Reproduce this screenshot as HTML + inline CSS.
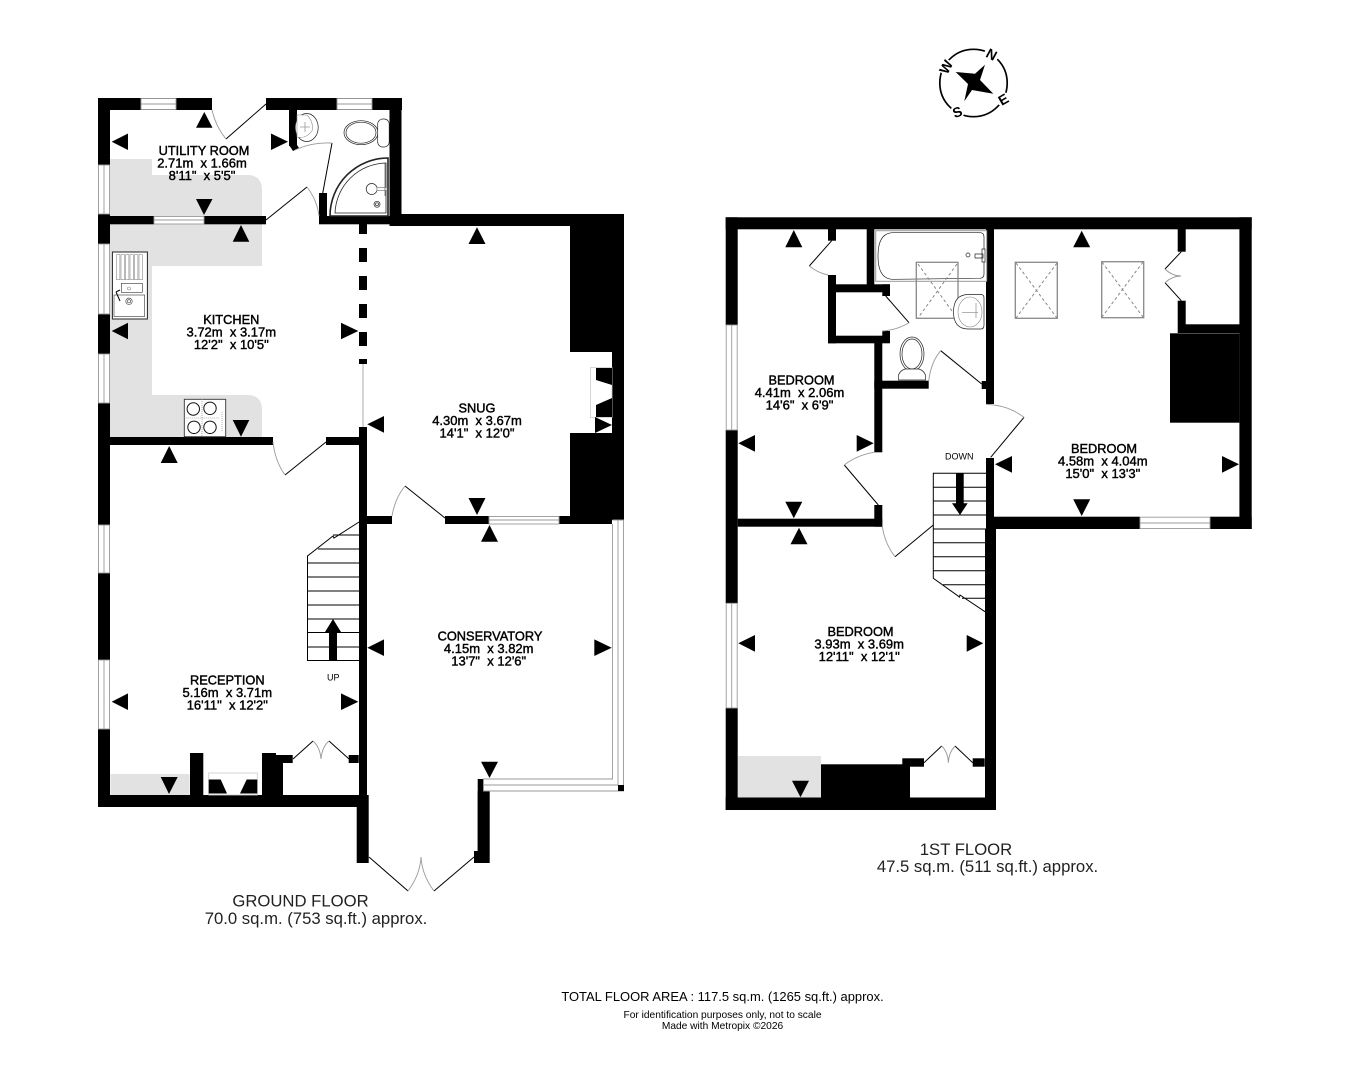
<!DOCTYPE html>
<html><head><meta charset="utf-8"><style>
html,body{margin:0;padding:0;background:#fff}
svg{display:block}
text{font-family:"Liberation Sans",sans-serif;fill:#000;text-anchor:middle;white-space:pre}
.t{font-size:13px;stroke:#000;stroke-width:.42}
.t .h{font-size:12.8px}
.b{font-size:16.7px;fill:#222}
.k{font-size:14px;font-weight:bold}
.w{fill:#fff;stroke:#999;stroke-width:.9}
.c{stroke:#999;stroke-width:.9;fill:none}
.l{stroke:#000;stroke-width:1;fill:none}
.g{stroke:#999;stroke-width:.8;fill:none}
.f{stroke:#222;stroke-width:.7;fill:#fff}
.f2{stroke:#888;stroke-width:.6;fill:#fff}
.d{stroke:#888;stroke-width:1;stroke-dasharray:3 2.5;fill:none}
.s{stroke:#888;stroke-width:1.3;fill:none}
</style></head><body>
<svg width="1350" height="1077" viewBox="0 0 1350 1077" xmlns="http://www.w3.org/2000/svg">
<rect width="1350" height="1077" fill="#fff"/>

<!-- counters -->
<g fill="#e2e2e2">
<path d="M110 159H152V175H247Q262 175 262 190V217H110Z"/>
<path d="M110 224H262V266H152V395H247Q262 395 262 410V438H110Z"/>
<rect x="110.5" y="774" width="79" height="21"/>
<rect x="738" y="756" width="83" height="42"/>
</g>

<!-- GROUND FLOOR walls -->
<g fill="#000">
<rect x="98" y="98" width="114" height="12"/>
<rect x="266" y="98" width="136" height="12"/>
<rect x="98" y="98" width="12" height="67"/>
<rect x="98" y="214" width="12" height="30"/>
<rect x="98" y="314" width="12" height="40"/>
<rect x="98" y="403" width="12" height="122"/>
<rect x="98" y="573" width="12" height="87"/>
<rect x="98" y="729" width="12" height="78"/>
<rect x="98" y="216" width="56" height="8.3"/>
<rect x="204" y="216" width="62" height="8.3"/>
<rect x="319" y="216" width="82" height="8.3"/>
<rect x="319" y="193" width="8" height="31"/>
<rect x="389.5" y="98" width="12" height="128"/>
<rect x="389.5" y="214" width="234.5" height="12"/>
<rect x="612" y="214" width="12" height="306"/>
<rect x="289" y="110" width="8" height="36"/>
<path d="M289 145L297 145L299 148L293 151Z"/>
<rect x="359" y="224" width="8" height="10"/>
<rect x="359" y="248" width="8" height="14"/>
<rect x="359" y="276" width="8" height="14"/>
<rect x="359" y="304" width="8" height="14"/>
<rect x="359" y="332" width="8" height="14"/>
<rect x="359" y="359" width="8" height="5"/>
<rect x="359" y="427" width="8" height="368"/>
<rect x="98" y="437" width="175" height="8"/>
<rect x="326" y="437" width="41" height="8"/>
<rect x="367" y="516" width="25" height="8"/>
<rect x="445" y="516" width="44" height="8"/>
<rect x="559" y="516" width="53" height="8"/>
<rect x="570" y="226" width="42" height="126"/>
<rect x="570" y="433" width="42" height="83"/>
<rect x="98" y="795" width="270" height="12"/>
<rect x="356.7" y="795" width="12" height="68"/>
<rect x="190" y="753" width="13.3" height="42"/>
<rect x="262" y="753" width="14" height="42"/>
<rect x="275" y="762" width="8" height="33"/>
<rect x="275.7" y="755" width="17" height="8"/>
<rect x="348.7" y="755" width="10" height="8"/>
<rect x="477.7" y="779" width="5.6" height="84"/>
<rect x="477.7" y="791" width="12" height="72"/>
<rect x="474" y="851" width="5" height="12"/>
</g>

<!-- ground floor windows -->
<rect class="w" x="141" y="98.5" width="35" height="11"/><path class="c" d="M141 104H176"/>
<rect class="w" x="337" y="98.5" width="35" height="11"/><path class="c" d="M337 104H372"/>
<rect class="w" x="98.5" y="165" width="11" height="49"/><path class="c" d="M104 165V214"/>
<rect class="w" x="98.5" y="244" width="11" height="70"/><path class="c" d="M104 244V314"/>
<rect class="w" x="98.5" y="354" width="11" height="49"/><path class="c" d="M104 354V403"/>
<rect class="w" x="98.5" y="525" width="11" height="48"/><path class="c" d="M104 525V573"/>
<rect class="w" x="98.5" y="660" width="11" height="69"/><path class="c" d="M104 660V729"/>
<rect class="w" x="154" y="216.5" width="50" height="7.5"/><path class="c" d="M154 220H204"/>
<rect class="w" x="489" y="516.5" width="70" height="7.5"/><path class="c" d="M489 520H559"/>
<!-- conservatory glazing -->
<path class="w" d="M612.5 524V779H483.5V791H623.5V520H612.5"/>
<path class="c" d="M618 520V785M483.5 785H618"/>
<rect x="618" y="785" width="6" height="6" fill="#000"/>
<path class="g" d="M363 364V427"/>

<!-- ground doors -->
<path class="l" d="M226 139L266 104"/><path class="c" d="M212 110Q216 127 226 139"/>
<path class="l" d="M332 143L322 197"/><path class="c" d="M295 150Q312 142 332 143"/>
<path class="l" d="M266 220L307 187"/><path class="c" d="M307 187Q317 200 319 216"/>
<path class="l" d="M285 475L326 442"/><path class="c" d="M273 442Q275 461 285 475"/>
<path class="l" d="M405 486L445 518"/><path class="c" d="M392 516Q395 498 405 486"/>
<path class="l" d="M369 857L408 891M434 891L474 857"/><path class="c" d="M408 891Q420 875 421 857Q422 875 434 891"/>
<path class="l" d="M293 759L313 741M329 741L349 759"/><path class="c" d="M313 741Q320 747 321 759Q322 747 329 741"/>

<!-- ground stairs -->
<path class="l" d="M359 522L334 538L333 536L307.5 556V660.5H359M359 535H333M318 549H359M307.5 563H359M307.5 577H359M307.5 591H359M307.5 605H359M307.5 619H359M307.5 632.5H359M307.5 647H359"/>
<path d="M333 619L341 632H337V660H329V632H325Z" fill="#000"/>

<!-- fireplaces -->
<rect x="208.7" y="773" width="48.6" height="22" fill="#fff" stroke="#ccc" stroke-width=".8"/>
<path d="M208.7 779.5H220.7L227 793.5H208.7ZM257.3 779.5H246.7L240 793.5H257.3Z" fill="#000"/>
<rect x="590.5" y="367.5" width="21.5" height="50" fill="#fff" stroke="#ccc" stroke-width=".8"/>
<path d="M596 368H612V385L596 380ZM596 405L612 398V417H596Z" fill="#000"/>

<!-- sink -->
<rect x="112.4" y="252" width="35" height="67" fill="#fff" stroke="#222"/>
<g class="f2"><rect x="116.5" y="254.7" width="3.4" height="25"/><rect x="121" y="254.7" width="3.4" height="25"/><rect x="125.5" y="254.7" width="3.4" height="25"/><rect x="130" y="254.7" width="3.4" height="25"/><rect x="134.5" y="254.7" width="3.4" height="25"/><rect x="139" y="254.7" width="3.4" height="25"/>
<rect x="121.3" y="283.3" width="21" height="9" stroke="#333"/><rect x="114" y="295" width="30.6" height="21.5" stroke="#333"/><circle cx="129" cy="288.5" r="1.5"/><circle cx="129" cy="301.3" r="3.2" stroke="#333"/><circle cx="129" cy="301.3" r="1.6" stroke="#333"/></g>
<path class="l" d="M116 292L120 301M116 292L120 290" stroke="#555"/>
<!-- hob -->
<rect x="184.3" y="399.3" width="41.4" height="37.4" fill="#fff" stroke="#333" stroke-width=".9"/>
<path class="g" d="M184.3 418H220M202 399V437M222 412V432" stroke="#666" stroke-dasharray="1 1"/>
<g fill="#fff" stroke="#111" stroke-width="1"><circle cx="193.3" cy="409" r="6.2"/><circle cx="210" cy="408.3" r="6.2"/><circle cx="194" cy="427.3" r="6.2"/><circle cx="210" cy="427.3" r="6.2"/></g>

<!-- WC fixtures -->
<g class="f"><ellipse cx="306.7" cy="127.5" rx="11.5" ry="14"/></g>
<path class="f2" d="M297 115H307Q314 122 312 131Q306 139 297 137Z"/>
<path class="g" d="M300 127H310M305 122V132"/>
<g class="f"><ellipse cx="361" cy="132.7" rx="17" ry="12"/><ellipse cx="361" cy="132.7" rx="15" ry="10.5"/><rect x="377.7" y="119" width="11.5" height="28" rx="5"/>
<path d="M388 158A58 58 0 0 0 330 216H388Z" fill="#fff" stroke-width="1.6"/><path d="M386 163A52 52 0 0 0 335 213H386Z" stroke-width=".8"/>
<circle cx="371.7" cy="189" r="5.5"/><circle cx="377" cy="204.3" r="3"/><circle cx="377" cy="204.3" r="1.5"/><path d="M377 187.5H387V190.5H377Z" stroke="#888"/><path d="M385 163V196" stroke="#555"/></g>

<!-- FIRST FLOOR walls -->
<g fill="#000">
<rect x="725.7" y="217.3" width="526" height="12"/>
<rect x="725.7" y="217.3" width="12" height="108"/>
<rect x="725.7" y="430" width="12" height="173.3"/>
<rect x="725.7" y="708" width="12" height="102"/>
<rect x="725.7" y="797.5" width="270.3" height="12.5"/>
<rect x="1239.4" y="217.3" width="12.3" height="311.7"/>
<rect x="986" y="516.7" width="154" height="12.3"/>
<rect x="1210" y="516.7" width="41.7" height="12.3"/>
<rect x="986" y="458" width="8" height="71"/>
<rect x="985" y="529" width="11" height="281"/>
<rect x="986" y="229" width="8" height="175"/>
<rect x="828" y="229" width="8" height="11.7"/>
<rect x="828" y="275" width="8" height="68.3"/>
<rect x="828" y="284.3" width="62" height="8"/>
<rect x="882.3" y="284.3" width="7.7" height="11.7"/>
<rect x="866.7" y="229" width="7.6" height="56"/>
<rect x="828" y="335.7" width="62" height="7.6"/>
<rect x="882.3" y="331" width="7.7" height="12"/>
<rect x="874.3" y="343" width="8" height="109.3"/>
<rect x="874.3" y="380.7" width="54.4" height="8"/>
<rect x="981.7" y="381" width="5" height="8"/>
<rect x="874.3" y="505" width="8" height="21.7"/>
<rect x="737.7" y="518.7" width="144.6" height="8"/>
<rect x="1177.7" y="229" width="8" height="22.7"/>
<rect x="1177.7" y="300.7" width="8" height="32.3"/>
<rect x="1185" y="324.3" width="55" height="8.7"/>
<rect x="1170" y="333.3" width="69.4" height="89.4"/>
<rect x="821" y="764.3" width="89" height="33.5"/>
<rect x="902.3" y="758.3" width="21.7" height="8.4"/>
<rect x="972.7" y="758.3" width="12" height="8.4"/>
</g>
<rect class="w" x="726.2" y="325" width="11" height="105"/><path class="c" d="M731.7 325V430"/>
<rect class="w" x="726.2" y="603.3" width="11" height="104.7"/><path class="c" d="M731.7 603.3V708"/>
<rect class="w" x="1140" y="517.2" width="70" height="11.3"/><path class="c" d="M1140 523H1210"/>

<!-- first doors -->
<path class="l" d="M831.7 240.7L809.3 266"/><path class="c" d="M809.3 266Q818 273 828 275"/>
<path class="l" d="M885.7 296L909 322.7"/><path class="c" d="M909 322.7Q897 330 882.3 331"/>
<path class="l" d="M940.7 350.7L981.7 384"/><path class="c" d="M928.7 381Q931 362 940.7 350.7"/>
<path class="l" d="M844.3 465L878.3 505"/><path class="c" d="M874.3 452.3Q857 455 844.3 465"/>
<path class="l" d="M895 556.7L933.3 525"/><path class="c" d="M882.3 526.7Q885 544 895 556.7"/>
<path class="l" d="M1024 417.3L990.7 457.3"/><path class="c" d="M986 404.3Q1008 405 1024 417.3"/>
<path class="l" d="M1181.3 251.7L1165 269M1165 282.7L1181.3 300.7"/><path class="c" d="M1165 269Q1172 276 1181 276Q1172 276 1165 282.7"/>
<path class="l" d="M924 762.7L941.7 746M955 746L972.7 762.7"/><path class="c" d="M941.7 746Q948 752 948.3 762.7Q949 752 955 746"/>

<!-- first stairs -->
<path class="l" d="M986 473.3H933.3V578.3L959.5 597L960 595L985 611.7M933.3 487.3H986M933.3 501H986M933.3 515H986M933.3 529H986M933.3 542.7H986M933.3 556.7H986M933.3 570.7H986M943 584.7H986M962 598.3H986"/>
<path d="M956 473.3H963.7V503.3H967.7L960 515L952 503.3H956Z" fill="#000"/>

<!-- skylights -->
<rect class="s" x="1015.3" y="262.3" width="42" height="56"/><path class="d" d="M1016 263L1057 318M1057 263L1016 318"/>
<rect class="s" x="1101.7" y="261.7" width="42" height="56"/><path class="d" d="M1102 262L1143 317M1143 262L1102 317"/>

<!-- bath -->
<rect x="875.7" y="230.7" width="111" height="50.6" fill="#fff" stroke="#999"/>
<path class="f" d="M893 232.7H980Q984 232.7 984 237V274Q984 278 980 278.3L893 279.3Q878 279.3 878 256Q878 232.7 893 232.7Z"/>
<circle class="f" cx="968" cy="255" r="2"/>
<path class="f" d="M975 254H983V258H975ZM982 249H985V262H982Z"/>
<rect class="s" x="916.3" y="262.3" width="41.7" height="56"/><path class="d" d="M918 264L957 318M957 264L918 318"/>
<path class="f" d="M968.5 294.5H981Q984 294.5 984 298V325Q984 329 981 329H968.5Q953.5 329 953.5 312Q953.5 294.5 968.5 294.5Z"/>
<ellipse class="f2" cx="970" cy="312" rx="12" ry="15"/>
<path class="g" d="M962 312.5H978M976 303V318" stroke="#666"/>
<!-- first toilet -->
<ellipse class="f" cx="912" cy="354" rx="12" ry="17"/><ellipse class="f" cx="912" cy="354" rx="10" ry="15"/>
<path class="f" d="M898.5 380Q897 372 905 369H919Q927 372 925.5 380Z"/>

<!-- arrows -->
<g fill="#000">
<path d="M204.3 112L196 127.7H212.5Z"/><path d="M111.7 141.7L128 133.5V150Z"/><path d="M288 141.7L271 133.5V150Z"/><path d="M204 215L196 199H212.5Z"/>
<path d="M241 225L232.7 241.7H249.3Z"/><path d="M111.7 331L128 322.7V339.3Z"/><path d="M358.3 331L341 322.7V339.3Z"/><path d="M241 436.7L232.7 420H249.3Z"/>
<path d="M169.2 446L160.7 463H177.7Z"/><path d="M111.7 701.7L128 693.4V710Z"/><path d="M358.3 701.7L341 693.4V710Z"/><path d="M169 794L160.7 777H177.7Z"/>
<path d="M477 227.3L468.5 244H485.5Z"/><path d="M367.3 424.3L384 416V432.7Z"/><path d="M612 425L595 417V433Z"/><path d="M477 515L468.5 498H485.5Z"/>
<path d="M489.5 525L481 541.7H498Z"/><path d="M367.3 647.7L384 639.4V656Z"/><path d="M611.7 647.7L594.3 639.4V656Z"/><path d="M489.5 778L481 761.7H498Z"/>
<path d="M793.8 230L785.3 247.3H802.3Z"/><path d="M738.3 443.3L755 435V451.7Z"/><path d="M873.7 443.3L856.7 435V451.7Z"/><path d="M793.8 518.3L785.3 501.7H802.3Z"/>
<path d="M799 527.7L790.5 544.3H807.5Z"/><path d="M738.3 643.3L755 635V651.7Z"/><path d="M983.3 643.3L966.7 635V651.7Z"/><path d="M800.5 797.3L792 780.7H809Z"/>
<path d="M1081.7 230.7L1073.2 247.3H1090.2Z"/><path d="M995 464.3L1012 456V472.7Z"/><path d="M1239 464.3L1222 456V472.7Z"/><path d="M1081.7 516L1073.2 499.3H1090.2Z"/>
</g>

<!-- compass -->
<circle cx="973.5" cy="83" r="33.7" fill="none" stroke="#000" stroke-width="1.7"/>
<circle cx="991.7" cy="54.3" r="7.5" fill="#fff"/>
<circle cx="946" cy="67" r="7.5" fill="#fff"/>
<circle cx="957.3" cy="112" r="7" fill="#fff"/>
<circle cx="1003.3" cy="99.3" r="7" fill="#fff"/>
<path d="M985 64.7L980 80L993.3 93.7L972 90L964.3 101.3L968 84L955.7 72L975 73.7Z" fill="#000"/>
<text class="k" y="5" transform="translate(991.7 54.3) rotate(28)">N</text>
<text class="k" y="5" transform="translate(946 67) rotate(-62)">W</text>
<text class="k" y="5" transform="translate(957.3 112) rotate(-20)">S</text>
<text class="k" y="5" transform="translate(1003.3 99.3) rotate(-30)">E</text>

<!-- room labels -->
<g class="t">
<text class="h" x="204" y="155">UTILITY ROOM</text><text x="202" y="167.7">2.71m  x 1.66m</text><text x="202" y="180">8'11"  x 5'5"</text>
<text class="h" x="231.3" y="324">KITCHEN</text><text x="231.3" y="336.5">3.72m  x 3.17m</text><text x="231.3" y="349">12'2"  x 10'5"</text>
<text class="h" x="227.3" y="684.5">RECEPTION</text><text x="227.3" y="697">5.16m  x 3.71m</text><text x="227.3" y="709.5">16'11"  x 12'2"</text>
<text class="h" x="477" y="412.5">SNUG</text><text x="477" y="425">4.30m  x 3.67m</text><text x="477" y="437.5">14'1"  x 12'0"</text>
<text class="h" x="490" y="640.5">CONSERVATORY</text><text x="488.7" y="653">4.15m  x 3.82m</text><text x="488.7" y="665.5">13'7"  x 12'6"</text>
<text class="h" x="801.5" y="384.5">BEDROOM</text><text x="799.5" y="397">4.41m  x 2.06m</text><text x="799.5" y="409.5">14'6"  x 6'9"</text>
<text class="h" x="1104" y="453">BEDROOM</text><text x="1102.8" y="465.5">4.58m  x 4.04m</text><text x="1102.8" y="478">15'0"  x 13'3"</text>
<text class="h" x="860.5" y="636">BEDROOM</text><text x="859.2" y="648.5">3.93m  x 3.69m</text><text x="859.2" y="661">12'11"  x 12'1"</text>
</g>
<text x="333.3" y="680.5" font-size="9">UP</text>
<text x="959.3" y="459.3" font-size="9">DOWN</text>

<text class="b" x="300.5" y="906.5">GROUND FLOOR</text>
<text class="b" x="316" y="924">70.0 sq.m. (753 sq.ft.) approx.</text>
<text class="b" x="966" y="855">1ST FLOOR</text>
<text class="b" x="987.5" y="872">47.5 sq.m. (511 sq.ft.) approx.</text>
<text x="722.5" y="1001" font-size="12.95" fill="#222">TOTAL FLOOR AREA : 117.5 sq.m. (1265 sq.ft.) approx.</text>
<text x="722.5" y="1018" font-size="10.2">For identification purposes only, not to scale</text>
<text x="722.5" y="1029" font-size="10.2">Made with Metropix ©2026</text>
</svg>
</body></html>
